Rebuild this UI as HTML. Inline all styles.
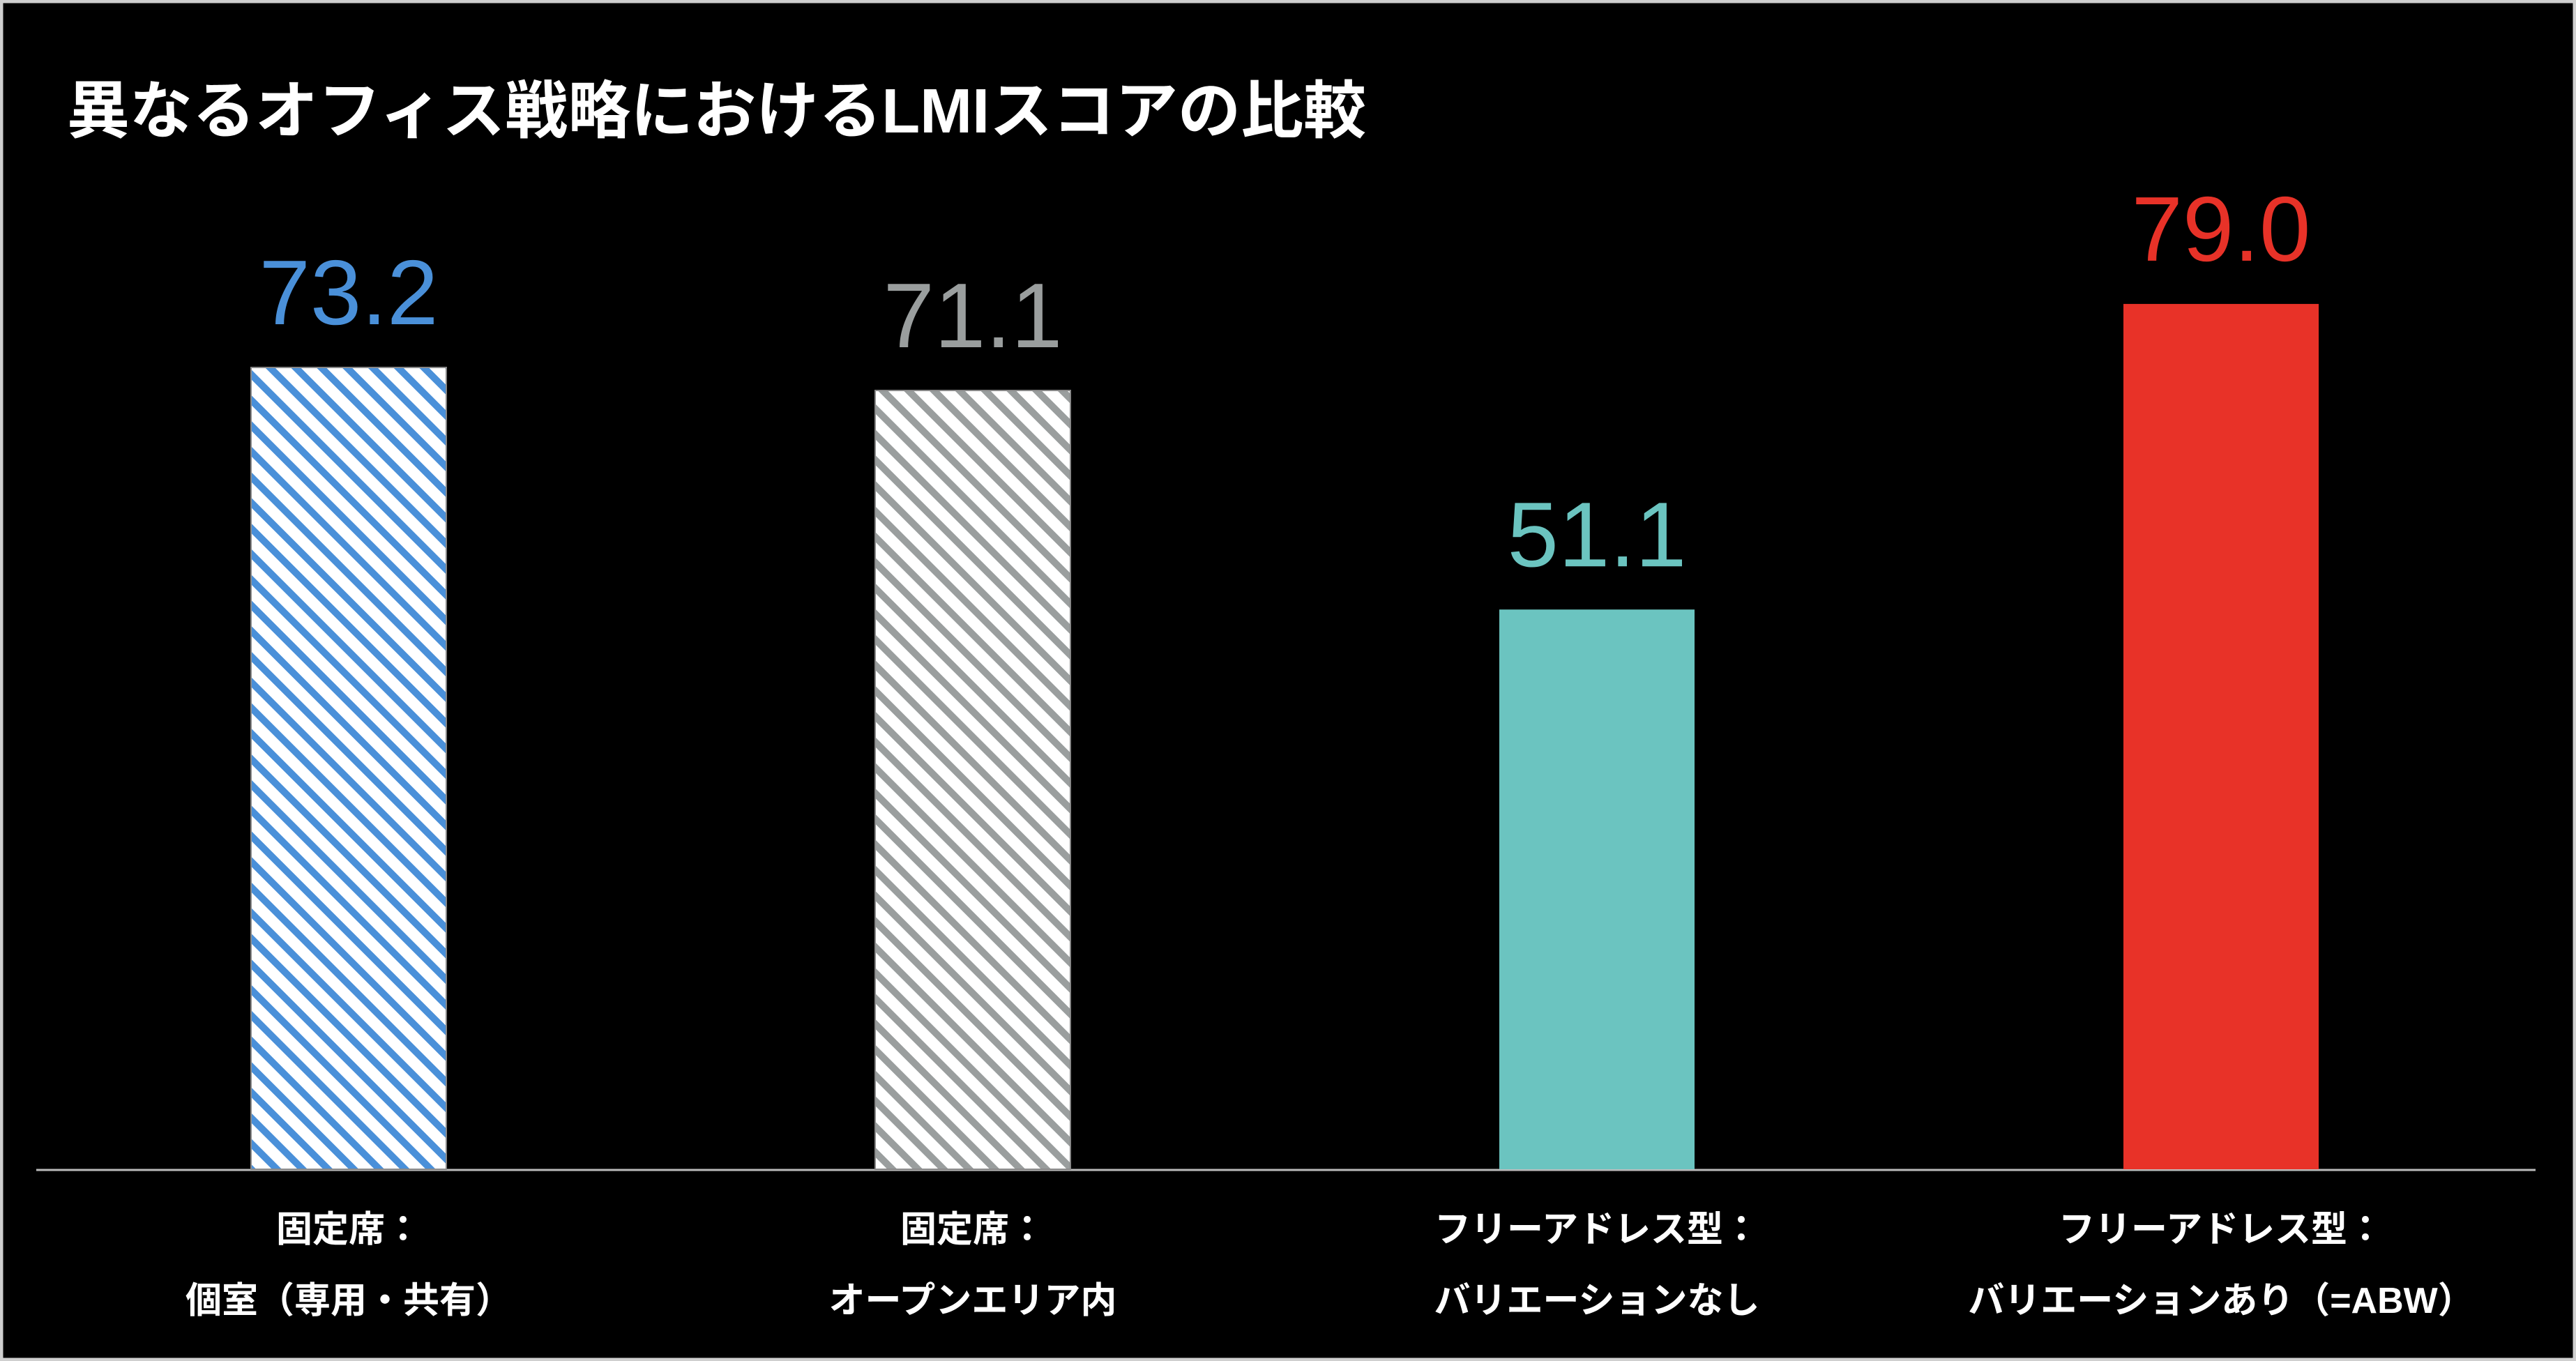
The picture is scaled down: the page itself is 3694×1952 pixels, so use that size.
<!DOCTYPE html>
<html><head><meta charset="utf-8"><style>
html,body{margin:0;padding:0;background:#000;}
body{width:3694px;height:1952px;overflow:hidden;}
svg{display:block;}
</style></head><body>
<svg id="chart" width="3694" height="1952" viewBox="0 0 3694 1952" xmlns="http://www.w3.org/2000/svg">
<defs>
<pattern id="hatchBlue" patternUnits="userSpaceOnUse" width="26" height="26" patternTransform="rotate(-45)">
<rect width="26" height="26" fill="#fff"/><rect width="10" height="26" fill="#4a90d9"/></pattern>
<pattern id="hatchGray" patternUnits="userSpaceOnUse" width="26" height="26" patternTransform="rotate(-45)">
<rect width="26" height="26" fill="#fff"/><rect width="10" height="26" fill="#9a9e9e"/></pattern>
</defs>
<rect x="2" y="2" width="3690" height="1948" fill="#000" stroke="#cfcfcf" stroke-width="5"/>
<text x="96" y="190" fill="#fff" font-size="90" font-weight="bold" font-family="'Liberation Sans','Noto Sans CJK JP',sans-serif">異なるオフィス戦略におけるLMIスコアの比較</text>
<line x1="52" y1="1678" x2="3636" y2="1678" stroke="#bbb" stroke-width="3"/>
<g id="bars"></g>
</svg>
<script>
const categories1 = ["固定席：", "固定席：", "フリーアドレス型：", "フリーアドレス型："];
const categories2 = ["個室（専用・共有）", "オープンエリア内", "バリエーションなし", "バリエーションあり（=ABW）"];
const values = [73.2, 71.1, 51.1, 79.0];
const valueLabels = ["73.2", "71.1", "51.1", "79.0"];
const fills = ["url(#hatchBlue)", "url(#hatchGray)", "#6bc4c0", "#e83228"];
const textColors = ["#4a90d9", "#9a9e9e", "#6bc4c0", "#e83228"];

const baseY = 1677, pxPerUnit = 15.71;
const firstCenter = 500, step = 895, barW = 280;
const y = v => baseY - v * pxPerUnit;
const xc = i => firstCenter + i * step;
const NS = "http://www.w3.org/2000/svg";
const g = document.getElementById("bars");
const font = "'Liberation Sans','Noto Sans CJK JP',sans-serif";
values.forEach((v, i) => {
  const r = document.createElementNS(NS, "rect");
  r.setAttribute("x", xc(i) - barW / 2);
  r.setAttribute("y", y(v));
  r.setAttribute("width", barW);
  r.setAttribute("height", baseY - y(v));
  r.setAttribute("fill", fills[i]);
  if (i < 2) { r.setAttribute("stroke", "#888"); r.setAttribute("stroke-width", "2"); }
  
  
  g.appendChild(r);
  const t = document.createElementNS(NS, "text");
  t.setAttribute("x", xc(i));
  t.setAttribute("y", y(v) - 62);
  t.setAttribute("fill", textColors[i]);
  t.setAttribute("font-size", "132");
  t.setAttribute("font-family", font);
  t.setAttribute("text-anchor", "middle");
  t.textContent = valueLabels[i];
  
  
  g.appendChild(t);
  [categories1[i], categories2[i]].forEach((s, k) => {
    const c = document.createElementNS(NS, "text");
    c.setAttribute("x", xc(i));
    c.setAttribute("y", k === 0 ? 1781 : 1883);
    c.setAttribute("fill", "#fff");
    c.setAttribute("font-size", "52");
    c.setAttribute("font-weight", "bold");
    c.setAttribute("font-family", font);
    c.setAttribute("text-anchor", "middle");
    c.textContent = s;
    
    
    g.appendChild(c);
  });
});
</script>
</body></html>
